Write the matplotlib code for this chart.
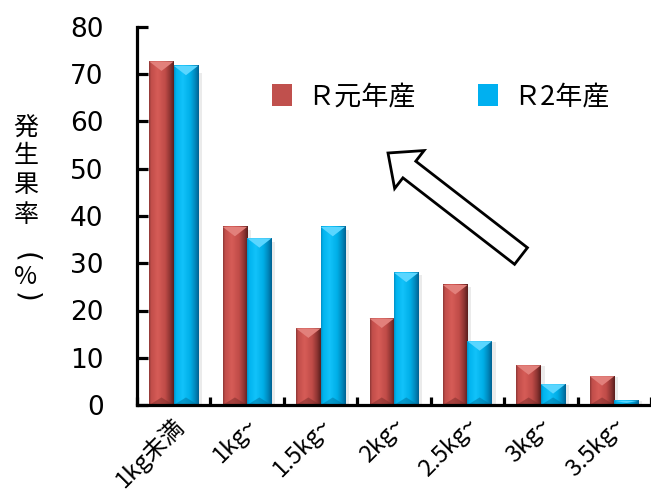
import matplotlib
matplotlib.use("Agg")
import matplotlib.pyplot as plt
import numpy as np
from matplotlib.colors import LinearSegmentedColormap
from matplotlib.patches import Polygon, FancyArrow, Rectangle
from matplotlib.transforms import ScaledTranslation

# data
categories = ["1kg未満", "1kg~", "1.5kg~", "2kg~", "2.5kg~", "3kg~", "3.5kg~"]
r1_values = [72.7, 37.7, 16.2, 18.3, 25.4, 8.4, 6.1]   # R元年産
r2_values = [71.8, 35.3, 37.7, 28.0, 13.5, 4.4, 0.9]   # R2年産
series_names = ["Ｒ元年産", "Ｒ2年産"]
y_ticks = [0, 10, 20, 30, 40, 50, 60, 70, 80]
y_title = ["発", "生", "果", "率"]

CJK = ["Noto Sans CJK JP", "DejaVu Sans"]

red_cmap = LinearSegmentedColormap.from_list(
    "red_bevel", [(0.0, "#8E3836"), (0.08, "#C24E4A"), (0.35, "#D65C57"),
                  (0.65, "#C04C48"), (0.85, "#8F3533"), (1.0, "#5A1F1E")])
blue_cmap = LinearSegmentedColormap.from_list(
    "blue_bevel", [(0.0, "#0090C8"), (0.08, "#00B4EE"), (0.35, "#12C2FA"),
                   (0.65, "#00AFE8"), (0.85, "#0089BE"), (1.0, "#006292")])

fig = plt.figure(figsize=(6.51, 4.97), dpi=100)
ax = fig.add_axes([137 / 651, 1 - 405 / 497, 1 - 137 / 651, (405 - 27) / 497])

x = np.arange(len(categories)) + 0.5
bw = 1 / 3
bars1 = ax.bar(x - bw / 2, r1_values, bw, color="#C0504D", zorder=2, label=series_names[0])
bars2 = ax.bar(x + bw / 2, r2_values, bw, color="#00B0F0", zorder=2, label=series_names[1])

grad = np.linspace(0, 1, 64).reshape(1, -1)


def bevel(bars, cmap, top_col, bot_col):
    for b in bars:
        x0, w, h = b.get_x(), b.get_width(), b.get_height()
        # soft shadow to the right
        ax.add_patch(Rectangle((x0 + w, 0), 0.05, h * 0.98, color="#000000",
                               alpha=0.08, lw=0, zorder=1))
        ax.imshow(grad, extent=[x0, x0 + w, 0, h], aspect="auto", cmap=cmap,
                  zorder=3, interpolation="bilinear")
        d = min(2.0, h / 2)
        ax.add_patch(Polygon([(x0, h), (x0 + w, h), (x0 + w / 2, h - d)],
                             closed=True, color=top_col, lw=0, zorder=4))
        ax.add_patch(Polygon([(x0, 0), (x0 + w, 0), (x0 + w / 2, d * 0.8)],
                             closed=True, color=bot_col, lw=0, alpha=0.5, zorder=4))


bevel(bars1, red_cmap, "#E2807B", "#7A2B29")
bevel(bars2, blue_cmap, "#5AD6FF", "#00729E")

ax.set_xlim(0, len(categories))
ax.set_ylim(0, 80)

for s in ["top", "right"]:
    ax.spines[s].set_visible(False)
for s in ["left", "bottom"]:
    ax.spines[s].set_linewidth(2.3)
    ax.spines[s].set_zorder(6)

ax.set_yticks(y_ticks)
ax.set_yticklabels([str(v) for v in y_ticks], fontsize=19, family="DejaVu Sans")
ax.tick_params(axis="y", direction="in", length=8, width=2.3, pad=24)

ax.set_xticks(np.arange(len(categories) + 1))
ax.set_xticklabels([])
ax.tick_params(axis="x", which="major", direction="in", length=6, width=2.3)
ax.set_xticks(x, minor=True)
ax.set_xticklabels(categories, minor=True, rotation=45, ha="right", va="center",
                   rotation_mode="anchor", fontsize=17, family=CJK)
ax.tick_params(axis="x", which="minor", length=0, pad=12)
shift = ScaledTranslation(7 / 100, 0, fig.dpi_scale_trans)
for lbl in ax.get_xticklabels(minor=True):
    lbl.set_transform(lbl.get_transform() + shift)

leg = ax.legend(loc="center left", bbox_to_anchor=(272 / 651, 1 - 97 / 497),
                bbox_transform=fig.transFigure, ncol=2, frameon=False,
                borderpad=0, borderaxespad=0, handlelength=0.75, handleheight=0.9,
                handletextpad=0.55, columnspacing=2.3, prop={"family": CJK, "size": 19.5})

# vertical axis title, one character per line
title_y = [128, 156, 185, 215]
for ch, yy in zip(y_title, title_y):
    fig.text(26 / 651, 1 - yy / 497, ch, ha="center", va="center",
             fontsize=18, family=CJK)
# parentheses in vertical writing: turned brackets around %
fig.text(26 / 651, 1 - 257 / 497, "(", ha="center", va="center", rotation=-90,
         fontsize=20, family="DejaVu Sans")
fig.text(26 / 651, 1 - 277 / 497, "%", ha="center", va="center",
         fontsize=18, family=CJK)
fig.text(26 / 651, 1 - 297 / 497, ")", ha="center", va="center", rotation=-90,
         fontsize=20, family="DejaVu Sans")

# hollow arrow pointing up-left
arrow = FancyArrow(5.21, 4.97 - 2.56, -1.33, 1.03, width=0.21, head_width=0.48,
                   head_length=0.27, length_includes_head=True,
                   transform=fig.dpi_scale_trans, facecolor="white",
                   edgecolor="black", linewidth=2.0, zorder=10)
fig.patches.append(arrow)

fig.savefig("out.png", dpi=100)
